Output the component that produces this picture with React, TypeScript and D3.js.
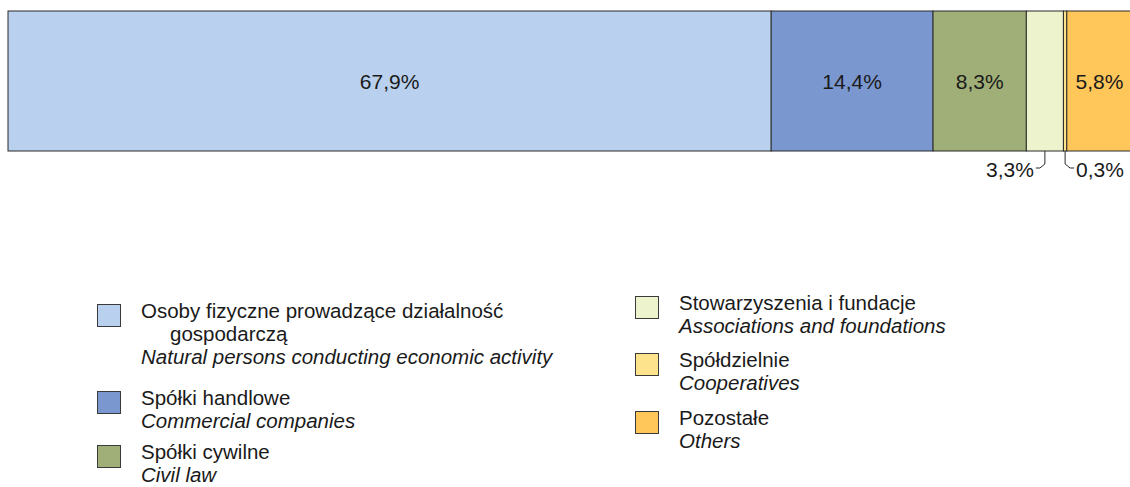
import React, { useRef, useEffect } from 'react';
import * as d3 from 'd3';

// segments of the single 100% bar, left to right
const segKeys = ['natural', 'commercial', 'civil', 'assoc', 'coop', 'others'];
const segValues = [67.9, 14.4, 8.3, 3.3, 0.3, 5.8];
const segColors = ['#b9d0ee', '#7b97d0', '#a0af78', '#edf3cc', '#fde48c', '#ffc75a'];
// labels drawn outside the bar (too narrow): -1 = left side, 1 = right side
const outsideSide = [0, 0, 0, -1, 1, 0];

// legend
const legendPl = [
  ['Osoby fizyczne prowadzące działalność', 'gospodarczą'],
  ['Spółki handlowe'],
  ['Spółki cywilne'],
  ['Stowarzyszenia i fundacje'],
  ['Spółdzielnie'],
  ['Pozostałe'],
];
const legendEn = [
  'Natural persons conducting economic activity',
  'Commercial companies',
  'Civil law',
  'Associations and foundations',
  'Cooperatives',
  'Others',
];
const legendSwatchY = [304, 391, 445, 296, 353, 411];

const fmt = (v: number) => v.toFixed(1).replace('.', ',') + '%';

const App = () => {
  const svgRef = useRef<SVGSVGElement>(null);

  useEffect(() => {
    const width = 1130;
    const height = 487;
    const svg = d3.select(svgRef.current)
      .attr('width', width)
      .attr('height', height)
      .style('font-family', '"Liberation Sans", Arial, sans-serif');

    svg.selectAll('*').remove();

    const barTop = 11;
    const barBottom = 151;

    const x = d3.scaleLinear().domain([0, 100]).range([8, 1132]);
    const ends = Array.from(d3.cumsum(segValues));
    const segs = segValues.map((v, i) => ({
      key: segKeys[i],
      value: v,
      x0: ends[i] - v,
      x1: ends[i],
      color: segColors[i],
      side: outsideSide[i],
    }));

    const bar = svg.append('g');
    bar.selectAll('rect')
      .data(segs)
      .enter()
      .append('rect')
      .attr('x', d => x(d.x0))
      .attr('y', barTop)
      .attr('width', d => x(d.x1) - x(d.x0))
      .attr('height', barBottom - barTop)
      .attr('fill', d => d.color)
      .attr('stroke', '#2b2b2b')
      .attr('stroke-width', 1);

    // labels inside
    bar.selectAll('text.in')
      .data(segs.filter(d => d.side === 0))
      .enter()
      .append('text')
      .attr('class', 'in')
      .attr('x', d => x((d.x0 + d.x1) / 2))
      .attr('y', (barTop + barBottom) / 2 + 8)
      .attr('text-anchor', 'middle')
      .attr('font-size', 21)
      .attr('fill', '#1a1a1a')
      .text(d => fmt(d.value));

    // labels outside with leader lines
    const outside = segs.filter(d => d.side !== 0);
    bar.selectAll('path.lead')
      .data(outside)
      .enter()
      .append('path')
      .attr('class', 'lead')
      .attr('d', d => {
        const cx = x((d.x0 + d.x1) / 2);
        const s = d.side;
        return `M${cx},${barBottom} V${barBottom + 13} L${cx + 5 * s},${barBottom + 17} H${cx + 9 * s}`;
      })
      .attr('fill', 'none')
      .attr('stroke', '#2b2b2b')
      .attr('stroke-width', 1);

    bar.selectAll('text.out')
      .data(outside)
      .enter()
      .append('text')
      .attr('class', 'out')
      .attr('x', d => x((d.x0 + d.x1) / 2) + 11 * d.side)
      .attr('y', barBottom + 26)
      .attr('text-anchor', d => (d.side < 0 ? 'end' : 'start'))
      .attr('font-size', 21)
      .attr('fill', '#1a1a1a')
      .text(d => fmt(d.value));

    // legend
    const legend = svg.append('g');
    const lineH = 23;
    segs.forEach((d, i) => {
      const col = i < 3 ? 0 : 1;
      const sx = col === 0 ? 97 : 635;
      const tx = col === 0 ? 141 : 679;
      const sy = legendSwatchY[i];
      const item = legend.append('g');
      item.append('rect')
        .attr('x', sx + 0.5)
        .attr('y', sy + 0.5)
        .attr('width', 23)
        .attr('height', 22)
        .attr('fill', d.color)
        .attr('stroke', '#3a3a3a')
        .attr('stroke-width', 1);
      const lines = legendPl[i];
      lines.forEach((ln, j) => {
        item.append('text')
          .attr('x', j === 0 ? tx : tx + 29)
          .attr('y', sy + 14 + j * lineH)
          .attr('font-size', 20.5)
          .attr('fill', '#1a1a1a')
          .text(ln);
      });
      item.append('text')
        .attr('x', tx)
        .attr('y', sy + 14 + lines.length * lineH)
        .attr('font-size', 20.5)
        .attr('font-style', 'italic')
        .attr('fill', '#1a1a1a')
        .text(legendEn[i]);
    });
  }, []);

  return <svg ref={svgRef} style={{ position: 'absolute', left: 0, top: 0 }}></svg>;
};

export default App;
